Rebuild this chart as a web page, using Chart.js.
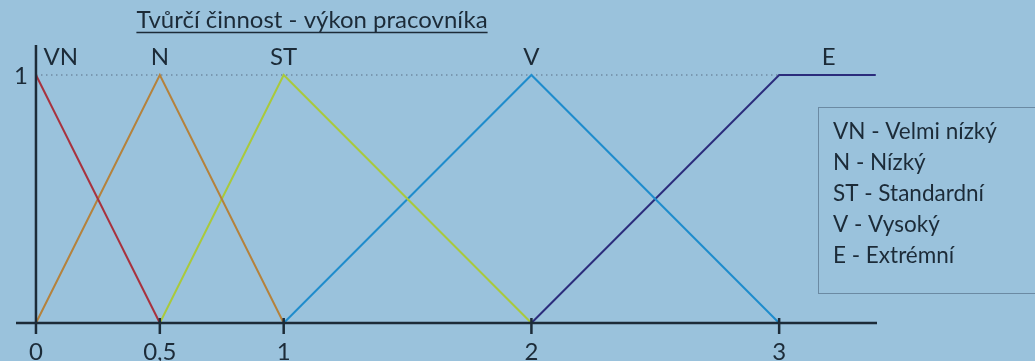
<!DOCTYPE html>
<html><head><meta charset="utf-8">
<script src="https://cdn.jsdelivr.net/npm/chart.js@4"></script>
<style>html,body{margin:0;padding:0;background:#9ac2dc;overflow:hidden}canvas{display:block}</style>
</head><body>
<canvas id="c" width="1035" height="361"></canvas>
<script>
const titleText = 'Tvůrčí činnost - výkon pracovníka';
const xTickValues = [0, 0.5, 1, 2, 3];
const xTickLabels = ['0', '0,5', '1', '2', '3'];
const yTickValues = [1];
const yTickLabels = ['1'];
const seriesNames = ['VN', 'N', 'ST', 'V', 'E'];
const seriesLabelX = [0.1, 0.5, 1, 2, 3.2];
const vnX = [0, 0.5];       const vnY = [1, 0];
const nX  = [0, 0.5, 1];    const nY  = [0, 1, 0];
const stX = [0.5, 1, 2];    const stY = [0, 1, 0];
const vX  = [1, 2, 3];      const vY  = [0, 1, 0];
const eX  = [2, 3, 3.39];   const eY  = [0, 1, 1];
const legendItems = ['VN - Velmi nízký', 'N - Nízký', 'ST - Standardní', 'V - Vysoký', 'E - Extrémní'];
const seriesColors = ['#a8323e', '#b5823c', '#a9c93c', '#1f8ccc', '#2b2c7c'];

const xs = [vnX, nX, stX, vX, eX];
const ys = [vnY, nY, stY, vY, eY];
const TEXT = '#1c2b38';
const FONT = 'Lato, "Open Sans", sans-serif';

const datasets = seriesNames.map((n, i) => ({
  label: n,
  data: xs[i].map((x, j) => ({x, y: ys[i][j]})),
  borderColor: seriesColors[i],
  borderWidth: 2,
  pointRadius: 0,
  showLine: true,
  tension: 0,
  clip: false
}));

const deco = {
  id: 'deco',
  beforeDatasetsDraw(chart) {
    const c = chart.ctx, X = chart.scales.x, Y = chart.scales.y;
    c.save();
    c.strokeStyle = '#6f8ba2';
    c.lineWidth = 1.5;
    c.setLineDash([1.5, 3.5]);
    c.beginPath();
    c.moveTo(X.getPixelForValue(0), Y.getPixelForValue(1));
    c.lineTo(X.getPixelForValue(3), Y.getPixelForValue(1));
    c.stroke();
    c.restore();
  },
  afterDatasetsDraw(chart) {
    const c = chart.ctx, X = chart.scales.x, Y = chart.scales.y, a = chart.chartArea;
    const y0 = Y.getPixelForValue(0), x0 = X.getPixelForValue(0);
    c.save();
    c.strokeStyle = TEXT;
    c.lineWidth = 2.5;
    c.beginPath();
    c.moveTo(a.left, y0); c.lineTo(a.right, y0);
    c.moveTo(x0, a.top); c.lineTo(x0, y0 + 11);
    xTickValues.forEach(v => {
      const px = X.getPixelForValue(v);
      c.moveTo(px, y0 - 5); c.lineTo(px, y0 + 11);
    });
    c.stroke();
    c.fillStyle = TEXT;
    c.font = '24px ' + FONT;
    c.textAlign = 'center';
    c.textBaseline = 'middle';
    xTickValues.forEach((v, i) => c.fillText(xTickLabels[i], X.getPixelForValue(v), y0 + 29));
    yTickValues.forEach((v, i) => c.fillText(yTickLabels[i], x0 - 15, Y.getPixelForValue(v) + 1));
    seriesNames.forEach((n, i) => c.fillText(n, X.getPixelForValue(seriesLabelX[i]), Y.getPixelForValue(1) - 18));
    // title
    c.font = '24px ' + FONT;
    c.textBaseline = 'alphabetic';
    const tw = c.measureText(titleText).width;
    const tx = 312;
    c.fillText(titleText, tx, 28);
    c.lineWidth = 1.3;
    c.beginPath();
    c.moveTo(tx - tw / 2, 32.5); c.lineTo(tx + tw / 2, 32.5);
    c.stroke();
    // legend box
    c.strokeStyle = '#6b8aa3';
    c.lineWidth = 1;
    c.strokeRect(818.5, 107.5, 300, 186);
    c.font = '22.5px ' + FONT;
    c.textAlign = 'left';
    c.textBaseline = 'middle';
    legendItems.forEach((t, i) => c.fillText(t, 833, 132 + i * 31));
    c.restore();
  }
};

new Chart(document.getElementById('c'), {
  type: 'scatter',
  data: { datasets },
  options: {
    responsive: false,
    animation: false,
    events: [],
    layout: { padding: { left: 16, right: 158, top: 45, bottom: 38 } },
    plugins: { legend: { display: false }, tooltip: { enabled: false }, title: { display: false } },
    scales: {
      x: { type: 'linear', min: -0.0806, max: 3.395, display: false },
      y: { type: 'linear', min: 0, max: 1.121, display: false }
    }
  },
  plugins: [deco]
});
</script>
</body></html>
